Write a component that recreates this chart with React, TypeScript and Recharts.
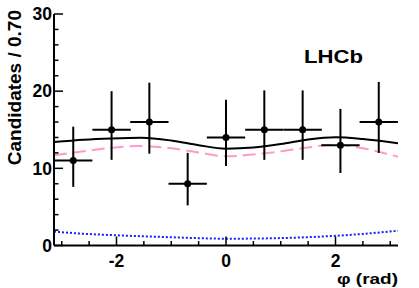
import { ComposedChart, Line, Scatter, ErrorBar, XAxis, YAxis } from 'recharts';

const PHI_MIN = -Math.PI;
const PHI_MAX = Math.PI;

// binned data (bin width 0.70 rad)
const binCenters = [-2.79, -2.09, -1.4, -0.7, 0, 0.7, 1.4, 2.09, 2.79];
const counts = [11, 15, 16, 8, 14, 15, 15, 13, 16];
const errLow = [3.4, 3.9, 4.1, 2.8, 3.7, 3.9, 3.9, 3.6, 4.0];
const errHigh = [4.4, 5.0, 5.1, 4.0, 4.9, 5.1, 5.1, 4.7, 5.2];
const halfBin = 0.35;

// fit curves
const curveX = [-3.1416, -2.6, -2.1, -1.55, -1.0, -0.5, 0, 0.5, 1.0, 1.5, 2.0, 2.5, 3.1416];
const totalFit = [13.4, 13.7, 13.86, 13.95, 13.6, 13.0, 12.55, 12.7, 13.15, 13.75, 14.03, 13.8, 13.25];
const signalFit = [11.7, 12.2, 12.65, 12.9, 12.6, 12.05, 11.56, 11.8, 12.2, 12.7, 13.08, 12.6, 11.5];
const bkgFit = [1.8, 1.52, 1.35, 1.2, 1.07, 0.95, 0.88, 0.9, 0.96, 1.08, 1.26, 1.5, 1.92];

const xTicks = [-3, -2.5, -2, -1.5, -1, -0.5, 0, 0.5, 1, 1.5, 2, 2.5, 3];
const xMajor = [-2, 0, 2];
const yTicks = [0, 2, 4, 6, 8, 10, 12, 14, 16, 18, 20, 22, 24, 26, 28, 30];
const yMajor = [0, 10, 20, 30];

const points = binCenters.map((x, i) => ({
  x,
  y: counts[i],
  ey: [errLow[i], errHigh[i]],
  ex: halfBin,
}));

const curves = curveX.map((x, i) => ({
  x,
  total: totalFit[i],
  signal: signalFit[i],
  bkg: bkgFit[i],
}));

const FONT = '"Liberation Sans", Arial, Helvetica, sans-serif';

const BottomTick = (props: any) => {
  const { x, y, payload } = props;
  const major = xMajor.includes(payload.value);
  return (
    <g>
      <line x1={x} x2={x} y1={y} y2={y - (major ? 9 : 4.5)} stroke="#000" strokeWidth={1.5} />
      {major && (
        <text x={x} y={y + 21} textAnchor="middle" fontFamily={FONT} fontWeight="bold" fontSize={17.5} fill="#000">
          {payload.value}
        </text>
      )}
    </g>
  );
};

const TopTick = (props: any) => {
  const { x, y, payload } = props;
  const major = xMajor.includes(payload.value);
  return <line x1={x} x2={x} y1={y} y2={y + (major ? 9 : 4.5)} stroke="#000" strokeWidth={1.5} />;
};

const LeftTick = (props: any) => {
  const { x, y, payload } = props;
  const major = yMajor.includes(payload.value);
  return (
    <g>
      <line x1={x} x2={x + (major ? 9 : 4.5)} y1={y} y2={y} stroke="#000" strokeWidth={1.5} />
      {major && (
        <text x={x - 2} y={y} dy="0.36em" textAnchor="end" fontFamily={FONT} fontWeight="bold" fontSize={17.5} fill="#000">
          {payload.value}
        </text>
      )}
    </g>
  );
};

const RightTick = (props: any) => {
  const { x, y, payload } = props;
  const major = yMajor.includes(payload.value);
  return <line x1={x} x2={x - (major ? 9 : 4.5)} y1={y} y2={y} stroke="#000" strokeWidth={1.5} />;
};

const Dot = (props: any) => {
  const { cx, cy } = props;
  return <circle cx={cx} cy={cy} r={3.5} fill="#000" />;
};

const axisLine = { stroke: '#000', strokeWidth: 2 };

export default function App() {
  return (
    <div style={{ position: 'absolute', left: 0, top: 0, width: 419, height: 288, background: '#fff' }}>
      <ComposedChart width={419} height={288} margin={{ top: 14, right: 21, bottom: 0, left: 0 }}>
        <XAxis
          type="number"
          dataKey="x"
          domain={[PHI_MIN, PHI_MAX]}
          allowDataOverflow
          ticks={xTicks}
          interval={0}
          height={42.5}
          tickSize={0}
          tickMargin={0}
          tickLine={false}
          axisLine={axisLine}
          tick={<BottomTick />}
        />
        <XAxis
          xAxisId="top"
          orientation="top"
          type="number"
          dataKey="x"
          domain={[PHI_MIN, PHI_MAX]}
          allowDataOverflow
          ticks={xTicks}
          interval={0}
          height={0}
          tickSize={0}
          tickMargin={0}
          tickLine={false}
          axisLine={axisLine}
          tick={<TopTick />}
        />
        <YAxis
          type="number"
          domain={[0, 30]}
          allowDataOverflow
          ticks={yTicks}
          interval={0}
          width={54}
          tickSize={0}
          tickMargin={0}
          tickLine={false}
          axisLine={axisLine}
          tick={<LeftTick />}
        />
        <YAxis
          yAxisId="right"
          orientation="right"
          type="number"
          domain={[0, 30]}
          allowDataOverflow
          ticks={yTicks}
          interval={0}
          width={0}
          tickSize={0}
          tickMargin={0}
          tickLine={false}
          axisLine={axisLine}
          tick={<RightTick />}
        />
        <Line
          data={curves}
          dataKey="bkg"
          type="monotone"
          stroke="#1a1aff"
          strokeWidth={2}
          strokeDasharray="2 2"
          dot={false}
          isAnimationActive={false}
        />
        <Line
          data={curves}
          dataKey="signal"
          type="monotone"
          stroke="#ff99cc"
          strokeWidth={2}
          strokeDasharray="13 6"
          dot={false}
          isAnimationActive={false}
        />
        <Line
          data={curves}
          dataKey="total"
          type="monotone"
          stroke="#000"
          strokeWidth={2}
          dot={false}
          isAnimationActive={false}
        />
        <Scatter data={points} dataKey="y" shape={<Dot />} isAnimationActive={false}>
          <ErrorBar dataKey="ey" direction="y" width={0} stroke="#000" strokeWidth={2} isAnimationActive={false} />
          <ErrorBar dataKey="ex" direction="x" width={0} stroke="#000" strokeWidth={2} isAnimationActive={false} />
        </Scatter>
      </ComposedChart>
      <svg
        width={419}
        height={288}
        style={{ position: 'absolute', left: 0, top: 0, pointerEvents: 'none' }}
      >
        <text
          x={21}
          y={10}
          transform="rotate(-90, 21, 10)"
          textAnchor="end"
          fontFamily={FONT}
          fontWeight="bold"
          fontSize={19}
          fill="#000"
        >
          Candidates / 0.70
        </text>
        <text
          x={337}
          y={284}
          fontFamily={FONT}
          fontWeight="bold"
          fontSize={15.5}
          textLength={61}
          lengthAdjust="spacingAndGlyphs"
          fill="#000"
        >
          φ (rad)
        </text>
        <text
          x={304}
          y={62.5}
          fontFamily={FONT}
          fontWeight="bold"
          fontSize={19}
          textLength={59}
          lengthAdjust="spacingAndGlyphs"
          fill="#000"
        >
          LHCb
        </text>
      </svg>
    </div>
  );
}
